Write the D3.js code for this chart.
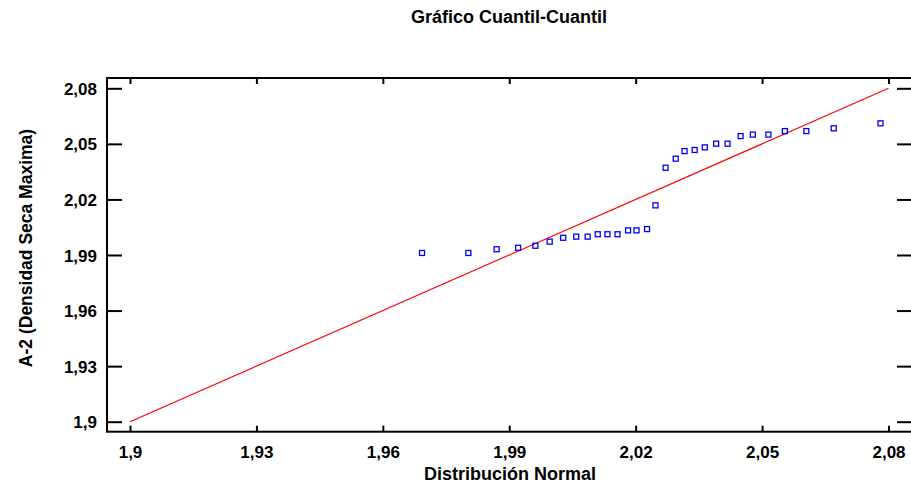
<!DOCTYPE html>
<html>
<head>
<meta charset="utf-8">
<script src="https://cdn.jsdelivr.net/npm/d3@7"></script>
<style>
  html, body { margin: 0; padding: 0; background: #fff; }
  svg text { font-family: "Liberation Sans", Arial, sans-serif; font-weight: bold; fill: #000; }
</style>
</head>
<body>
<svg id="chart" width="911" height="485"></svg>
<script>
// Theoretical normal quantiles (x) and sorted observations (y)
const normalQuantiles = [1.9693, 1.9803, 1.9870, 1.9921, 1.9962, 1.9996, 2.0028, 2.0059, 2.0086, 2.0110,
  2.0133, 2.0157, 2.0182, 2.0202, 2.0227, 2.0247, 2.0271, 2.0295, 2.0316, 2.0340,
  2.0364, 2.0391, 2.0418, 2.0449, 2.0478, 2.0515, 2.0554, 2.0605, 2.0670, 2.0781];
const observed = [1.9911, 1.9911, 1.9931, 1.9939, 1.9950, 1.9972, 1.9993, 1.9999, 1.9999, 2.0012,
  2.0012, 2.0012, 2.0033, 2.0033, 2.0040, 2.0168, 2.0371, 2.0420, 2.0461, 2.0467,
  2.0481, 2.0501, 2.0501, 2.0542, 2.0550, 2.0550, 2.0569, 2.0569, 2.0584, 2.0611];
const tickValues = [1.90, 1.93, 1.96, 1.99, 2.02, 2.05, 2.08];
const tickLabels = ["1,9", "1,93", "1,96", "1,99", "2,02", "2,05", "2,08"];
const refLine = [1.90, 2.08];

const svg = d3.select("#chart");
const frame = { left: 107, right: 912, top: 78, bottom: 431.7 };

const x = d3.scaleLinear().domain([1.9, 2.08]).range([130, 888.5]);
const y = d3.scaleLinear().domain([1.9, 2.08]).range([421.7, 88.3]);
const fmt = v => tickLabels[tickValues.findIndex(t => Math.abs(t - v) < 1e-9)];

// Title
svg.append("text").attr("x", 509).attr("y", 23).attr("text-anchor", "middle")
  .style("font-size", "18px").text("Gráfico Cuantil-Cuantil");

// Frame
svg.append("rect")
  .attr("x", frame.left).attr("y", frame.top)
  .attr("width", frame.right - frame.left).attr("height", frame.bottom - frame.top)
  .attr("fill", "none").attr("stroke", "#000").attr("stroke-width", 2);

// Bottom axis with labels, ticks pointing inward
const gx = svg.append("g").attr("transform", `translate(0,${frame.bottom})`)
  .call(d3.axisBottom(x).tickValues(tickValues).tickFormat(fmt).tickSizeInner(-6).tickSizeOuter(0).tickPadding(14));
// Top axis: ticks only
const gxt = svg.append("g").attr("transform", `translate(0,${frame.top})`)
  .call(d3.axisTop(x).tickValues(tickValues).tickFormat("").tickSizeInner(-6).tickSizeOuter(0));
// Left axis with labels, ticks pointing inward
const gy = svg.append("g").attr("transform", `translate(${frame.left},0)`)
  .call(d3.axisLeft(y).tickValues(tickValues).tickFormat(fmt).tickSizeInner(-15).tickSizeOuter(0).tickPadding(10));
// Right axis: ticks only
const gyr = svg.append("g").attr("transform", `translate(${frame.right},0)`)
  .call(d3.axisRight(y).tickValues(tickValues).tickFormat("").tickSizeInner(-15).tickSizeOuter(0));

[gx, gxt, gy, gyr].forEach(g => {
  g.select(".domain").remove();
  g.selectAll(".tick line").attr("stroke", "#000").attr("stroke-width", 2);
  g.selectAll(".tick text").style("font-size", "17px")
    .style("font-family", "'Liberation Sans', Arial, sans-serif").style("font-weight", "bold").attr("fill", "#000");
});
gy.selectAll(".tick text").attr("dy", "0.36em");

// Axis titles
svg.append("text").attr("x", 510).attr("y", 480).attr("text-anchor", "middle")
  .style("font-size", "18px").text("Distribución Normal");
svg.append("text").attr("transform", "translate(32,248) rotate(-90)").attr("text-anchor", "middle")
  .style("font-size", "17.5px").text("A-2 (Densidad Seca Maxima)");

// Reference line y = x
svg.append("line")
  .attr("x1", x(refLine[0])).attr("y1", y(refLine[0]))
  .attr("x2", x(refLine[1])).attr("y2", y(refLine[1]))
  .attr("stroke", "#ff0000").attr("stroke-width", 1.2);

// Quantile points
svg.append("g").selectAll("rect")
  .data(d3.zip(normalQuantiles, observed))
  .join("rect")
  .attr("x", d => x(d[0]) - 2.5).attr("y", d => y(d[1]) - 2.5)
  .attr("width", 5).attr("height", 5)
  .attr("fill", "none").attr("stroke", "#0000ff").attr("stroke-width", 1.3);
</script>
</body>
</html>
